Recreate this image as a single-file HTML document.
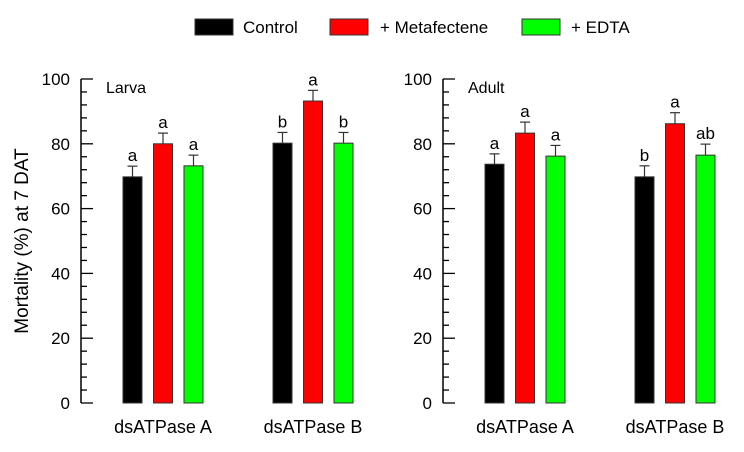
<!DOCTYPE html>
<html><head><meta charset="utf-8"><style>
body{margin:0;background:#fff;width:744px;height:447px;overflow:hidden}
svg{font-family:"Liberation Sans",Arial,sans-serif}
</style></head><body>
<svg id="c" width="744" height="447">
<g>
<rect x="195" y="19" width="38" height="16" fill="#000" stroke="#333"/>
<text x="243" y="33" font-size="17">Control</text>
<rect x="330" y="19" width="38" height="16" fill="#f00" stroke="#333"/>
<text x="380" y="33" font-size="17">+ Metafectene</text>
<rect x="522" y="19" width="38" height="16" fill="#0f0" stroke="#333"/>
<text x="571" y="33" font-size="17">+ EDTA</text>
</g>
<text transform="translate(28,241) rotate(-90)" text-anchor="middle" font-size="19">Mortality (%) at 7 DAT</text>
</svg>
<script>
const categories=["dsATPase A","dsATPase B"];
const larvaControl=[69.8,80.2], larvaMeta=[80,93.2], larvaEdta=[73.2,80.2];
const larvaControlErr=[3.3,3.3], larvaMetaErr=[3.3,3.3], larvaEdtaErr=[3.3,3.3];
const larvaLetters=[["a","a","a"],["b","a","b"]];
const adultControl=[73.7,69.8], adultMeta=[83.3,86.2], adultEdta=[76.2,76.5];
const adultControlErr=[3.2,3.4], adultMetaErr=[3.4,3.4], adultEdtaErr=[3.3,3.4];
const adultLetters=[["a","a","a"],["b","a","ab"]];
const yTicks=[0,20,40,60,80,100];
const panelTitles=["Larva","Adult"];

const svg=document.getElementById('c');
const NS='http://www.w3.org/2000/svg';
function mk(t,a){const e=document.createElementNS(NS,t);for(const k in a)e.setAttribute(k,a[k]);svg.appendChild(e);return e;}
const y0=403,y100=79;
function Y(v){return y0-(y0-y100)*v/100;}
const colors=["#000","#f00","#0f0"];
const sNames=["control","metafectene","edta"];
function panel(p,ax,groupX,series,errs,letters){
  let e=mk('line',{x1:ax,y1:Y(0),x2:ax,y2:Y(100),stroke:'#000','stroke-width':1.5});
  
  
  for(let v=0;v<=100;v+=4){
    const maj=v%20===0;
    e=mk('line',{x1:ax,y1:Y(v),x2:ax+(maj?12:6),y2:Y(v),stroke:'#000','stroke-width':1.3});
    
    
  }
  yTicks.forEach(v=>{
    e=mk('text',{x:ax-11,y:Y(v)+6,'text-anchor':'end','font-size':17});
    e.textContent=v;
    
    
  });
  e=mk('text',{x:ax+25,y:93,'font-size':16});
  e.textContent=panelTitles[p];
  
  
  categories.forEach((c,g)=>{
    series.forEach((s,i)=>{
      const x=groupX[g]+i*30.5, w=19, v=s[g], er=errs[i][g], cx=x+w/2;
      e=mk('rect',{x:x,y:Y(v),width:w,height:Y(0)-Y(v),fill:colors[i],stroke:'#333','stroke-width':1});
      
      
      e=mk('line',{x1:cx,y1:Y(v),x2:cx,y2:Y(v+er),stroke:'#333','stroke-width':1.2});
      
      
      e=mk('line',{x1:cx-5,y1:Y(v+er),x2:cx+5,y2:Y(v+er),stroke:'#333','stroke-width':1.2});
      
      
      e=mk('text',{x:cx,y:Y(v+er)-5,'text-anchor':'middle','font-size':17});
      e.textContent=letters[g][i];
      
      
    });
    e=mk('text',{x:groupX[g]+40,y:433,'text-anchor':'middle','font-size':18});
    e.textContent=c;
    
    
  });
}
panel(0,81,[123,273],[larvaControl,larvaMeta,larvaEdta],[larvaControlErr,larvaMetaErr,larvaEdtaErr],larvaLetters);
panel(1,443,[485,635],[adultControl,adultMeta,adultEdta],[adultControlErr,adultMetaErr,adultEdtaErr],adultLetters);
</script>
</body></html>
